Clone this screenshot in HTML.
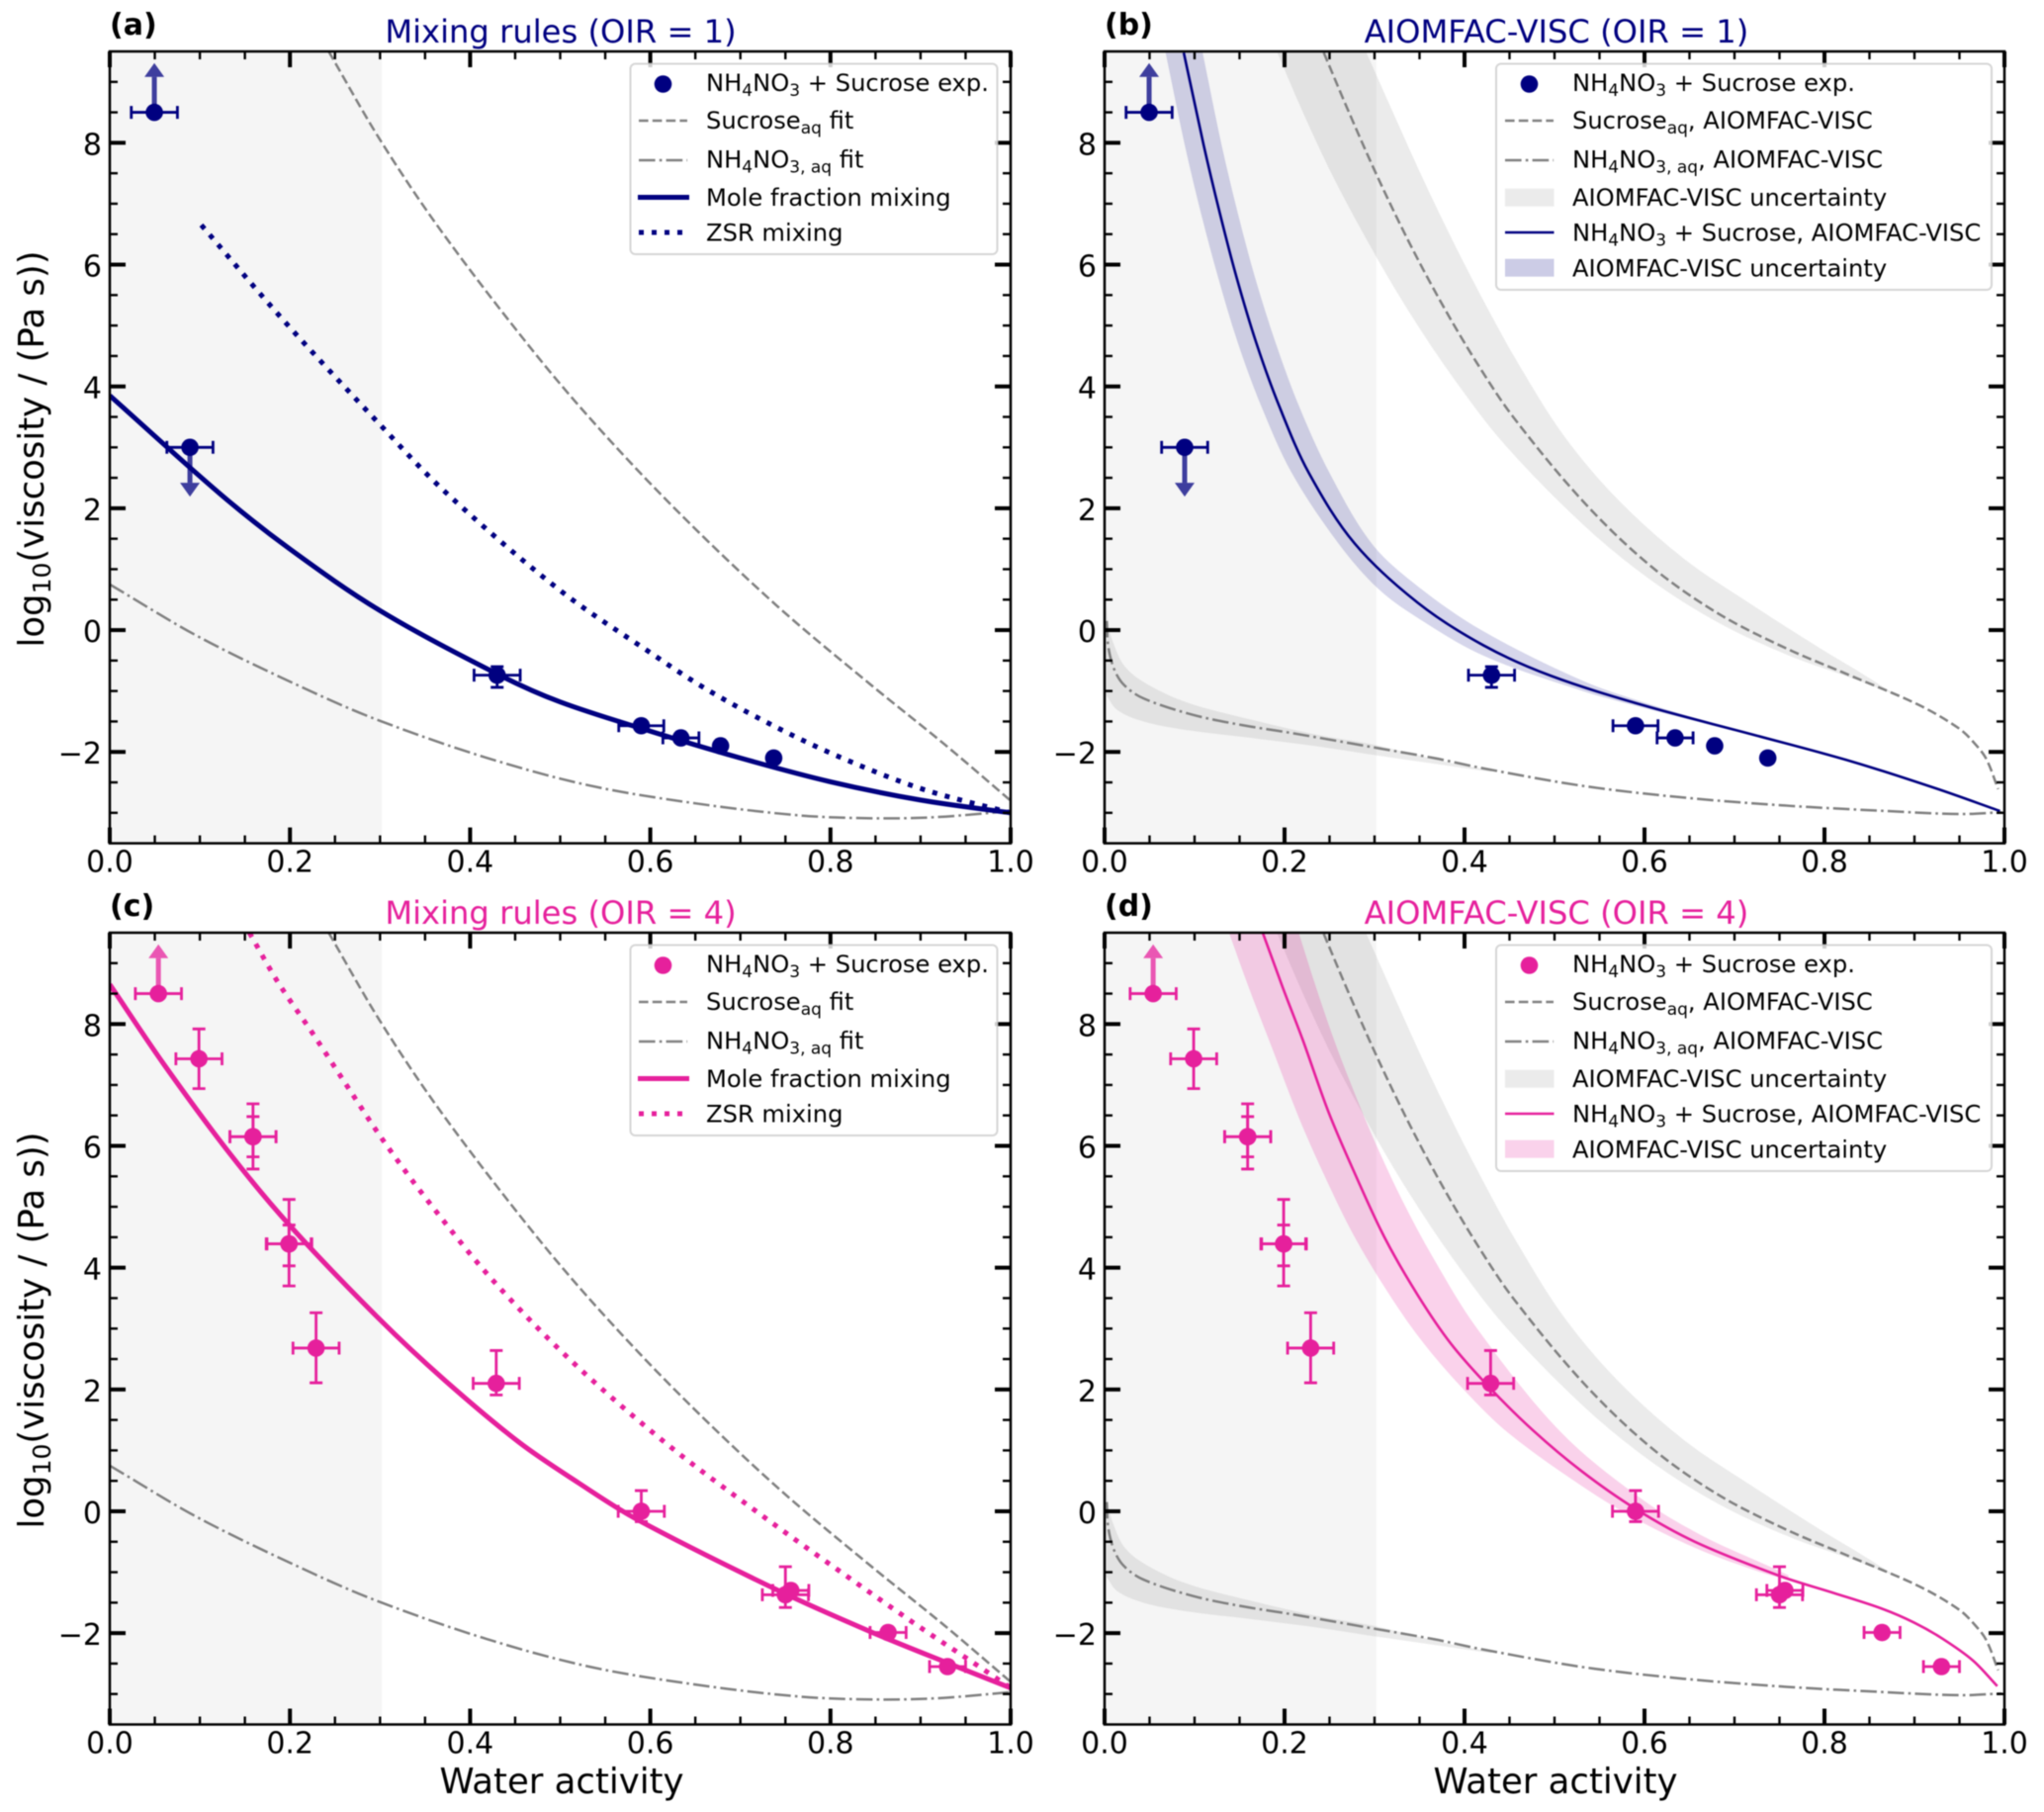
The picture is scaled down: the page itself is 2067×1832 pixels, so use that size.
<!DOCTYPE html>
<html lang="en">
<head>
<meta charset="utf-8">
<title>Viscosity of NH4NO3 + Sucrose versus water activity</title>
<style>
html,body{margin:0;padding:0;background:#fff;}
svg{display:block;filter:blur(0.4px);}
text{font-family:"DejaVu Sans","Liberation Sans",sans-serif;fill:#000;}
.lg{font-size:24.2px;}
.tt{font-size:32.2px;text-anchor:middle;}
.pl{font-size:30px;font-weight:bold;}
.al{font-size:35.5px;text-anchor:middle;}
.tk{font-size:30px;}
</style>
</head>
<body>
<svg id="figure" xmlns="http://www.w3.org/2000/svg" width="2067" height="1832" viewBox="0 0 2067 1832">
<rect x="0" y="0" width="2067" height="1832" fill="#fff"/>
<defs>
<clipPath id="clip-a"><rect x="111" y="52" width="911" height="800.6"/></clipPath>
<clipPath id="clip-b"><rect x="1117" y="52" width="910" height="800.6"/></clipPath>
<clipPath id="clip-c"><rect x="111" y="943" width="911" height="800.5"/></clipPath>
<clipPath id="clip-d"><rect x="1117" y="943" width="910" height="800.5"/></clipPath>
</defs>

<!-- PANEL A -->
<g id="panel-a">
<g id="plot-a"></g>
<text class="pl" x="111" y="35">(a)</text>
<text class="tt" x="567" y="43" style="fill:#000080">Mixing rules (OIR = 1)</text>
<text class="al" transform="translate(44,454) rotate(-90)">log<tspan font-size="25" dy="7">10</tspan><tspan dy="-7">(viscosity / (Pa s))</tspan></text>
<g>
<rect x="637.5" y="64.5" width="371" height="192.5" rx="5" fill="#fff" fill-opacity="0.8" stroke="#ccc" stroke-opacity="0.8" stroke-width="2"/>
<circle cx="670.5" cy="85" r="8.8" fill="#000080"/>
<text class="lg" x="714" y="92">NH<tspan font-size="17" dy="5">4</tspan><tspan dy="-5">NO</tspan><tspan font-size="17" dy="5">3</tspan><tspan dy="-5"> + Sucrose exp.</tspan></text>
<line x1="646" x2="695" y1="122" y2="122" stroke="#808080" stroke-width="2.5" stroke-dasharray="9.6 4.2"/>
<text class="lg" x="714" y="130">Sucrose<tspan font-size="17" dy="5">aq</tspan><tspan dy="-5"> fit</tspan></text>
<line x1="646" x2="695" y1="162" y2="162" stroke="#808080" stroke-width="2.5" stroke-dasharray="16.6 4.2 2.6 4.2"/>
<text class="lg" x="714" y="169.5">NH<tspan font-size="17" dy="5">4</tspan><tspan dy="-5">NO</tspan><tspan font-size="17" dy="5">3, aq</tspan><tspan dy="-5"> fit</tspan></text>
<line x1="645" x2="697" y1="199.5" y2="199.5" stroke="#000080" stroke-width="5"/>
<text class="lg" x="714" y="208">Mole fraction mixing</text>
<line x1="646" x2="692" y1="235" y2="235" stroke="#000080" stroke-width="5" stroke-dasharray="5 8"/>
<text class="lg" x="714" y="243.5">ZSR mixing</text>
</g>
</g>

<!-- PANEL B -->
<g id="panel-b">
<g id="plot-b"></g>
<text class="pl" x="1117" y="35">(b)</text>
<text class="tt" x="1574" y="43" style="fill:#000080">AIOMFAC-VISC (OIR = 1)</text>
<g>
<rect x="1513" y="64.5" width="501" height="228.5" rx="5" fill="#fff" fill-opacity="0.8" stroke="#ccc" stroke-opacity="0.8" stroke-width="2"/>
<circle cx="1546.5" cy="85" r="8.8" fill="#000080"/>
<text class="lg" x="1590" y="92">NH<tspan font-size="17" dy="5">4</tspan><tspan dy="-5">NO</tspan><tspan font-size="17" dy="5">3</tspan><tspan dy="-5"> + Sucrose exp.</tspan></text>
<line x1="1522" x2="1571" y1="122" y2="122" stroke="#808080" stroke-width="2.5" stroke-dasharray="9.6 4.2"/>
<text class="lg" x="1590" y="130">Sucrose<tspan font-size="17" dy="5">aq</tspan><tspan dy="-5">, AIOMFAC-VISC</tspan></text>
<line x1="1522" x2="1571" y1="162" y2="162" stroke="#808080" stroke-width="2.5" stroke-dasharray="16.6 4.2 2.6 4.2"/>
<text class="lg" x="1590" y="169.5">NH<tspan font-size="17" dy="5">4</tspan><tspan dy="-5">NO</tspan><tspan font-size="17" dy="5">3, aq</tspan><tspan dy="-5">, AIOMFAC-VISC</tspan></text>
<rect x="1522" y="190.7" width="49.5" height="18" fill="#808080" fill-opacity="0.16"/>
<text class="lg" x="1590" y="208">AIOMFAC-VISC uncertainty</text>
<line x1="1522" x2="1571.5" y1="235" y2="235" stroke="#000080" stroke-width="2.5"/>
<text class="lg" x="1590" y="243.5">NH<tspan font-size="17" dy="5">4</tspan><tspan dy="-5">NO</tspan><tspan font-size="17" dy="5">3</tspan><tspan dy="-5"> + Sucrose, AIOMFAC-VISC</tspan></text>
<rect x="1522" y="261.7" width="49.5" height="18" fill="#000080" fill-opacity="0.2"/>
<text class="lg" x="1590" y="279.5">AIOMFAC-VISC uncertainty</text>
</g>
</g>

<!-- PANEL C -->
<g id="panel-c">
<g id="plot-c"></g>
<text class="pl" x="111" y="926">(c)</text>
<text class="tt" x="567" y="934" style="fill:#e6209c">Mixing rules (OIR = 4)</text>
<text class="al" transform="translate(44,1345) rotate(-90)">log<tspan font-size="25" dy="7">10</tspan><tspan dy="-7">(viscosity / (Pa s))</tspan></text>
<text class="al" x="568" y="1813">Water activity</text>
<g>
<rect x="637.5" y="955.5" width="371" height="192.5" rx="5" fill="#fff" fill-opacity="0.8" stroke="#ccc" stroke-opacity="0.8" stroke-width="2"/>
<circle cx="670.5" cy="976" r="8.8" fill="#e6209c"/>
<text class="lg" x="714" y="983">NH<tspan font-size="17" dy="5">4</tspan><tspan dy="-5">NO</tspan><tspan font-size="17" dy="5">3</tspan><tspan dy="-5"> + Sucrose exp.</tspan></text>
<line x1="646" x2="695" y1="1013" y2="1013" stroke="#808080" stroke-width="2.5" stroke-dasharray="9.6 4.2"/>
<text class="lg" x="714" y="1021">Sucrose<tspan font-size="17" dy="5">aq</tspan><tspan dy="-5"> fit</tspan></text>
<line x1="646" x2="695" y1="1053" y2="1053" stroke="#808080" stroke-width="2.5" stroke-dasharray="16.6 4.2 2.6 4.2"/>
<text class="lg" x="714" y="1060.5">NH<tspan font-size="17" dy="5">4</tspan><tspan dy="-5">NO</tspan><tspan font-size="17" dy="5">3, aq</tspan><tspan dy="-5"> fit</tspan></text>
<line x1="645" x2="697" y1="1090.5" y2="1090.5" stroke="#e6209c" stroke-width="5"/>
<text class="lg" x="714" y="1099">Mole fraction mixing</text>
<line x1="646" x2="692" y1="1126" y2="1126" stroke="#e6209c" stroke-width="5" stroke-dasharray="5 8"/>
<text class="lg" x="714" y="1134.5">ZSR mixing</text>
</g>
</g>

<!-- PANEL D -->
<g id="panel-d">
<g id="plot-d"></g>
<text class="pl" x="1117" y="926">(d)</text>
<text class="tt" x="1574" y="934" style="fill:#e6209c">AIOMFAC-VISC (OIR = 4)</text>
<text class="al" x="1573" y="1813">Water activity</text>
<g>
<rect x="1513" y="955.5" width="501" height="228.5" rx="5" fill="#fff" fill-opacity="0.8" stroke="#ccc" stroke-opacity="0.8" stroke-width="2"/>
<circle cx="1546.5" cy="976" r="8.8" fill="#e6209c"/>
<text class="lg" x="1590" y="983">NH<tspan font-size="17" dy="5">4</tspan><tspan dy="-5">NO</tspan><tspan font-size="17" dy="5">3</tspan><tspan dy="-5"> + Sucrose exp.</tspan></text>
<line x1="1522" x2="1571" y1="1013" y2="1013" stroke="#808080" stroke-width="2.5" stroke-dasharray="9.6 4.2"/>
<text class="lg" x="1590" y="1021">Sucrose<tspan font-size="17" dy="5">aq</tspan><tspan dy="-5">, AIOMFAC-VISC</tspan></text>
<line x1="1522" x2="1571" y1="1053" y2="1053" stroke="#808080" stroke-width="2.5" stroke-dasharray="16.6 4.2 2.6 4.2"/>
<text class="lg" x="1590" y="1060.5">NH<tspan font-size="17" dy="5">4</tspan><tspan dy="-5">NO</tspan><tspan font-size="17" dy="5">3, aq</tspan><tspan dy="-5">, AIOMFAC-VISC</tspan></text>
<rect x="1522" y="1081.7" width="49.5" height="18" fill="#808080" fill-opacity="0.16"/>
<text class="lg" x="1590" y="1099">AIOMFAC-VISC uncertainty</text>
<line x1="1522" x2="1571.5" y1="1126" y2="1126" stroke="#e6209c" stroke-width="2.5"/>
<text class="lg" x="1590" y="1134.5">NH<tspan font-size="17" dy="5">4</tspan><tspan dy="-5">NO</tspan><tspan font-size="17" dy="5">3</tspan><tspan dy="-5"> + Sucrose, AIOMFAC-VISC</tspan></text>
<rect x="1522" y="1152.7" width="49.5" height="18" fill="#e6209c" fill-opacity="0.2"/>
<text class="lg" x="1590" y="1170.5">AIOMFAC-VISC uncertainty</text>
</g>
</g>
</svg>

<script>
// ---------- axis ticks ----------
var xTickValues = [0, 0.2, 0.4, 0.6, 0.8, 1.0];
var xTickLabels = ['0.0', '0.2', '0.4', '0.6', '0.8', '1.0'];
var xMinorTicks = [0.05, 0.1, 0.15, 0.25, 0.3, 0.35, 0.45, 0.5, 0.55, 0.65, 0.7, 0.75, 0.85, 0.9, 0.95];
var yTickValues = [-2, 0, 2, 4, 6, 8];
var yTickLabels = ['\u22122', '0', '2', '4', '6', '8'];
var yMinorTicks = [-3, -2.5, -1.5, -1, -0.5, 0.5, 1, 1.5, 2.5, 3, 3.5, 4.5, 5, 5.5, 6.5, 7, 7.5, 8.5, 9];
var xDomain = [0, 1];
var yDomain = [-3.5, 9.5];
var shadedUpToX = [0.302];

// ---------- fitted curves (panels a, c) ----------
var sucroseFitX = [0.243, 0.30, 0.368, 0.47, 0.545, 0.635, 0.742, 0.845, 0.927, 1.0];
var sucroseFitY = [9.5, 8.05, 6.55, 4.58, 3.28, 1.88, 0.38, -0.9, -1.88, -2.8];
var nitrateFitX = [0, 0.1, 0.224, 0.30, 0.417, 0.532, 0.648, 0.764, 0.848, 0.918, 1.0];
var nitrateFitY = [0.75, -0.12, -1.01, -1.49, -2.09, -2.55, -2.84, -3.04, -3.09, -3.07, -2.97];

// ---------- mixing rules OIR = 1 (panel a) ----------
var moleOir1X = [0, 0.123, 0.2, 0.3, 0.43, 0.5, 0.6, 0.7, 0.8, 0.9, 1.0];
var moleOir1Y = [3.85, 2.23, 1.33, 0.32, -0.72, -1.18, -1.66, -2.1, -2.49, -2.79, -3.0];
var zsrOir1X = [0.1016, 0.192, 0.297, 0.373, 0.5, 0.6, 0.66, 0.73, 0.805, 0.9, 1.0];
var zsrOir1Y = [6.65, 5.1, 3.42, 2.26, 0.65, -0.37, -0.95, -1.52, -2.05, -2.6, -3.0];

// ---------- mixing rules OIR = 4 (panel c) ----------
var moleOir4X = [0, 0.061, 0.134, 0.2, 0.299, 0.372, 0.4546, 0.52, 0.586, 0.742, 0.845, 0.935, 1.0];
var moleOir4Y = [8.65, 7.32, 5.86, 4.69, 3.16, 2.15, 1.13, 0.47, -0.14, -1.3, -1.98, -2.52, -2.9];
var zsrOir4X = [0.155, 0.187, 0.226, 0.264, 0.303, 0.353, 0.423, 0.5116, 0.618, 0.7296, 0.832, 0.902, 0.96, 1.0];
var zsrOir4Y = [9.5, 8.68, 7.83, 6.97, 6.1, 5.1, 3.83, 2.48, 1.11, -0.13, -1.21, -1.93, -2.5, -2.9];

// ---------- AIOMFAC-VISC pure-component curves (panels b, d) ----------
var sucroseModelX = [0.2436, 0.271, 0.304, 0.3407, 0.377, 0.414, 0.454, 0.5326, 0.607, 0.681, 0.756, 0.831, 0.905, 0.95, 0.968, 0.98, 0.993];
var sucroseModelY = [9.48, 8.52, 7.42, 6.3, 5.3, 4.38, 3.5, 2.1, 1.05, 0.28, -0.29, -0.76, -1.23, -1.62, -1.88, -2.12, -2.61];
var sucroseBandUpperX = [0.291, 0.3205, 0.3535, 0.39, 0.425, 0.458, 0.51, 0.57, 0.644, 0.719, 0.793, 0.838, 0.88];
var sucroseBandUpperY = [9.48, 8.5, 7.42, 6.3, 5.3, 4.42, 3.2, 2.15, 1.17, 0.42, -0.28, -0.68, -1.07];
var sucroseBandLowerX = [0.192, 0.2216, 0.2564, 0.30, 0.339, 0.388, 0.445, 0.5326, 0.607, 0.681, 0.756, 0.838, 0.88];
var sucroseBandLowerY = [9.48, 8.46, 7.37, 6.18, 5.21, 4.13, 3.04, 1.72, 0.82, 0.13, -0.39, -0.83, -1.07];

var nitrateModelX = [0.0025, 0.004, 0.0106, 0.0216, 0.043, 0.098, 0.153, 0.208, 0.293, 0.366, 0.421, 0.5326, 0.644, 0.756, 0.868, 0.95, 0.997];
var nitrateModelY = [0.15, -0.26, -0.64, -0.9, -1.12, -1.39, -1.56, -1.69, -1.91, -2.1, -2.27, -2.56, -2.75, -2.88, -2.97, -3.02, -2.99];
var nitrateBandUpperX = [0.002, 0.004, 0.0095, 0.0216, 0.043, 0.09, 0.163, 0.237, 0.299, 0.384, 0.43];
var nitrateBandUpperY = [0.6, 0.1, -0.2, -0.58, -0.85, -1.18, -1.47, -1.72, -1.88, -2.18, -2.3];
var nitrateBandLowerX = [0.002, 0.014, 0.043, 0.09, 0.163, 0.237, 0.299, 0.43];
var nitrateBandLowerY = [-1.07, -1.31, -1.5, -1.64, -1.77, -1.91, -2.05, -2.33];

// ---------- AIOMFAC-VISC mixture OIR = 1 (panel b) ----------
var mixOir1X = [0.088, 0.11, 0.128, 0.1465, 0.1685, 0.194, 0.227, 0.278, 0.348, 0.421, 0.496, 0.60, 0.719, 0.831, 0.924, 0.995];
var mixOir1Y = [9.48, 7.97, 6.85, 5.8, 4.72, 3.68, 2.58, 1.42, 0.45, -0.25, -0.75, -1.24, -1.71, -2.16, -2.6, -2.97];
var mixOir1UpperX = [0.109, 0.13, 0.148, 0.167, 0.19, 0.216, 0.25, 0.297, 0.348, 0.421, 0.531, 0.6, 0.7];
var mixOir1UpperY = [9.48, 7.97, 6.85, 5.8, 4.72, 3.68, 2.58, 1.42, 0.72, -0.02, -0.83, -1.19, -1.63];
var mixOir1LowerX = [0.0678, 0.089, 0.107, 0.126, 0.148, 0.174, 0.208, 0.26, 0.304, 0.348, 0.421, 0.531, 0.6, 0.7];
var mixOir1LowerY = [9.48, 7.97, 6.85, 5.8, 4.72, 3.68, 2.58, 1.42, 0.68, 0.2, -0.42, -1.0, -1.28, -1.66];

// ---------- AIOMFAC-VISC mixture OIR = 4 (panel d) ----------
var mixOir4X = [0.176, 0.198, 0.22, 0.249, 0.278, 0.311, 0.348, 0.385, 0.4286, 0.476, 0.53, 0.59, 0.656, 0.75, 0.81, 0.864, 0.9, 0.931, 0.965, 0.992];
var mixOir4Y = [9.49, 8.6, 7.75, 6.55, 5.55, 4.5, 3.55, 2.75, 2.02, 1.33, 0.66, 0.04, -0.5, -1.06, -1.34, -1.6, -1.83, -2.09, -2.45, -2.87];
var mixOir4UpperX = [0.216, 0.234, 0.256, 0.281, 0.30, 0.33, 0.366, 0.414, 0.507, 0.597, 0.664, 0.735, 0.76];
var mixOir4UpperY = [9.49, 8.65, 7.7, 6.75, 6.08, 5.13, 4.14, 3.0, 1.3, 0.2, -0.4, -0.88, -1.05];
var mixOir4LowerX = [0.1385, 0.161, 0.185, 0.216, 0.245, 0.278, 0.319, 0.355, 0.399, 0.45, 0.539, 0.597, 0.664, 0.727, 0.76];
var mixOir4LowerY = [9.49, 8.57, 7.65, 6.46, 5.49, 4.5, 3.5, 2.75, 2.0, 1.27, 0.33, -0.18, -0.65, -0.99, -1.13];

// ---------- experimental points OIR = 1 (panels a, b) ----------
var expOir1X = [0.0495, 0.089, 0.43, 0.59, 0.634, 0.678, 0.737];
var expOir1Y = [8.5, 3.0, -0.74, -1.57, -1.77, -1.9, -2.1];
var expOir1XErr = [0.0256, 0.0256, 0.0256, 0.025, 0.02, 0, 0];
var expOir1YUp = [0, 0, 0.14, 0, 0, 0, 0];
var expOir1YDown = [0, 0, 0.2, 0, 0, 0, 0];
var expOir1ArrowTip = [9.31, 2.19, null, null, null, null, null];

// ---------- experimental points OIR = 4 (panels c, d) ----------
var expOir4X = [0.054, 0.099, 0.159, 0.159, 0.199, 0.199, 0.229, 0.429, 0.59, 0.75, 0.756, 0.864, 0.93];
var expOir4Y = [8.5, 7.43, 6.15, 6.15, 4.39, 4.39, 2.68, 2.1, 0, -1.37, -1.3, -1.99, -2.55];
var expOir4XErr = [0.0256, 0.0256, 0.0256, 0.0256, 0.0253, 0.0245, 0.0256, 0.0256, 0.0256, 0.0256, 0.02, 0.02, 0.02];
var expOir4YUp = [0, 0.49, 0.33, 0.54, 0.31, 0.73, 0.58, 0.54, 0.34, 0.46, 0, 0, 0];
var expOir4YDown = [0, 0.49, 0.33, 0.53, 0.36, 0.69, 0.57, 0.19, 0.17, 0.21, 0, 0, 0];
var expOir4ArrowTip = [9.31, null, null, null, null, null, null, null, null, null, null, null, null];

var NAVY = '#000080';
var PINK = '#e6209c';
var GRAY = '#808080';
var SVGNS = 'http://www.w3.org/2000/svg';

function node(tag, attrs, parent) {
  var el = document.createElementNS(SVGNS, tag);
  for (var k in attrs) { el.setAttribute(k, attrs[k]); }
  parent.appendChild(el);
  return el;
}

function makeAxes(id, left, right, top, bottom) {
  return {
    id: id, left: left, right: right, top: top, bottom: bottom,
    g: document.getElementById('plot-' + id),
    sx: function (v) { return left + (v - xDomain[0]) / (xDomain[1] - xDomain[0]) * (right - left); },
    sy: function (v) { return bottom - (v - yDomain[0]) / (yDomain[1] - yDomain[0]) * (bottom - top); }
  };
}

// smooth path through the data points using chord-length tangents
function smoothSegments(ax, xs, ys, first) {
  var p = [];
  for (var i = 0; i < xs.length; i++) { p.push([ax.sx(xs[i]), ax.sy(ys[i])]); }
  var d = (first ? 'M' : 'L') + p[0][0].toFixed(2) + ' ' + p[0][1].toFixed(2);
  function tangent(j) {
    var a = p[Math.max(j - 1, 0)], b = p[Math.min(j + 1, p.length - 1)];
    var len = Math.hypot(b[0] - a[0], b[1] - a[1]) || 1;
    return [(b[0] - a[0]) / len, (b[1] - a[1]) / len];
  }
  for (var s = 0; s < p.length - 1; s++) {
    var L = Math.hypot(p[s + 1][0] - p[s][0], p[s + 1][1] - p[s][1]) / 3;
    var t0 = tangent(s), t1 = tangent(s + 1);
    d += 'C' + (p[s][0] + t0[0] * L).toFixed(2) + ' ' + (p[s][1] + t0[1] * L).toFixed(2) + ' ' +
         (p[s + 1][0] - t1[0] * L).toFixed(2) + ' ' + (p[s + 1][1] - t1[1] * L).toFixed(2) + ' ' +
         p[s + 1][0].toFixed(2) + ' ' + p[s + 1][1].toFixed(2);
  }
  return d;
}

function drawShade(ax) {
  var el = node('rect', { x: ax.sx(0), y: ax.top, width: ax.sx(shadedUpToX[0]) - ax.sx(0), height: ax.bottom - ax.top, fill: '#f5f5f5' }, ax.g);
  
  
}

function drawCurve(ax, xs, ys, color, width, dash, name) {
  var el = node('path', { d: smoothSegments(ax, xs, ys, true), fill: 'none', stroke: color, 'stroke-width': width, 'clip-path': 'url(#clip-' + ax.id + ')' }, ax.g);
  if (dash) { el.setAttribute('stroke-dasharray', dash); }
  
  
}

function drawBand(ax, ux, uy, lx, ly, color, opacity, name) {
  var rx = lx.slice().reverse(), ry = ly.slice().reverse();
  var d = smoothSegments(ax, ux, uy, true) + smoothSegments(ax, rx, ry, false) + 'Z';
  var el = node('path', { d: d, fill: color, 'fill-opacity': opacity, stroke: 'none', 'clip-path': 'url(#clip-' + ax.id + ')' }, ax.g);
  
  
}

function drawPoints(ax, xs, ys, xe, yu, yd, tips, color, barWidth) {
  var capHalf = 6.5;
  for (var i = 0; i < xs.length; i++) {
    var g = node('g', { stroke: color, 'stroke-width': barWidth, fill: 'none' }, ax.g);
    
    
    var cx = ax.sx(xs[i]), cy = ax.sy(ys[i]);
    if (tips[i] !== null) {
      var ty = ax.sy(tips[i]);
      var sign = ty < cy ? 1 : -1;
      var baseY = ty + sign * 14;
      var shaft = node('line', { x1: cx, x2: cx, y1: cy, y2: baseY, 'stroke-width': 5, stroke: color, 'stroke-opacity': 0.75 }, g);
      
      
      var head = node('polygon', { points: (cx - 10) + ',' + baseY + ' ' + (cx + 10) + ',' + baseY + ' ' + cx + ',' + ty, fill: color, 'fill-opacity': 0.75, stroke: 'none' }, g);
      
      
    }
    if (xe[i] > 0) {
      var x0 = ax.sx(xs[i] - xe[i]), x1 = ax.sx(xs[i] + xe[i]);
      var hb = node('path', { d: 'M' + x0 + ' ' + cy + 'H' + x1 + 'M' + x0 + ' ' + (cy - capHalf) + 'V' + (cy + capHalf) + 'M' + x1 + ' ' + (cy - capHalf) + 'V' + (cy + capHalf) }, g);
      
      
    }
    if (yu[i] > 0 || yd[i] > 0) {
      var y0 = ax.sy(ys[i] + yu[i]), y1 = ax.sy(ys[i] - yd[i]);
      var vb = node('path', { d: 'M' + cx + ' ' + y0 + 'V' + y1 + 'M' + (cx - capHalf) + ' ' + y0 + 'H' + (cx + capHalf) + 'M' + (cx - capHalf) + ' ' + y1 + 'H' + (cx + capHalf) }, g);
      
      
    }
    var c = node('circle', { cx: cx, cy: cy, r: 8.8, fill: color, stroke: 'none' }, g);
    
    
  }
}

function drawAxes(ax) {
  var g = node('g', { stroke: '#000' }, ax.g);
  
  
  function tick(x1, y1, x2, y2, w) {
    var t = node('line', { x1: x1, y1: y1, x2: x2, y2: y2, 'stroke-width': w }, g);
    
    
  }
  var MAJ = 16, MIN = 8, WMAJ = 4, WMIN = 2.4;
  xTickValues.forEach(function (v) {
    var x = ax.sx(v);
    tick(x, ax.bottom, x, ax.bottom - MAJ, WMAJ);
    tick(x, ax.top, x, ax.top + MAJ, WMAJ);
  });
  xMinorTicks.forEach(function (v) {
    var x = ax.sx(v);
    tick(x, ax.bottom, x, ax.bottom - MIN, WMIN);
    tick(x, ax.top, x, ax.top + MIN, WMIN);
  });
  yTickValues.forEach(function (v) {
    var y = ax.sy(v);
    tick(ax.left, y, ax.left + MAJ, y, WMAJ);
    tick(ax.right, y, ax.right - MAJ, y, WMAJ);
  });
  yMinorTicks.forEach(function (v) {
    var y = ax.sy(v);
    tick(ax.left, y, ax.left + MIN, y, WMIN);
    tick(ax.right, y, ax.right - MIN, y, WMIN);
  });
  var frame = node('rect', { x: ax.left, y: ax.top, width: ax.right - ax.left, height: ax.bottom - ax.top, fill: 'none', stroke: '#000', 'stroke-width': 2.5 }, ax.g);
  
  

  xTickValues.forEach(function (v, i) {
    var t = node('text', { 'class': 'tk', x: ax.sx(v), y: ax.bottom + 29, 'text-anchor': 'middle' }, ax.g);
    t.textContent = xTickLabels[i];
    
    
  });
  yTickValues.forEach(function (v, i) {
    var t = node('text', { 'class': 'tk', x: ax.left - 8, y: ax.sy(v) + 12, 'text-anchor': 'end' }, ax.g);
    t.textContent = yTickLabels[i];
    
    
  });
}

var axA = makeAxes('a', 111, 1022, 52, 852.6);
var axB = makeAxes('b', 1117, 2027, 52, 852.6);
var axC = makeAxes('c', 111, 1022, 943, 1743.5);
var axD = makeAxes('d', 1117, 2027, 943, 1743.5);

// Panel (a)
drawShade(axA);
drawCurve(axA, sucroseFitX, sucroseFitY, GRAY, 2.5, '9.6 4.2', 'sucrose-fit-line');
drawCurve(axA, nitrateFitX, nitrateFitY, GRAY, 2.5, '16.6 4.2 2.6 4.2', 'nitrate-fit-line');
drawCurve(axA, moleOir1X, moleOir1Y, NAVY, 5, null, 'mole-fraction-line');
drawCurve(axA, zsrOir1X, zsrOir1Y, NAVY, 5, '5 8', 'zsr-line');
drawPoints(axA, expOir1X, expOir1Y, expOir1XErr, expOir1YUp, expOir1YDown, expOir1ArrowTip, NAVY, 2.8);
drawAxes(axA);

// Panel (b)
drawShade(axB);
drawBand(axB, sucroseBandUpperX, sucroseBandUpperY, sucroseBandLowerX, sucroseBandLowerY, GRAY, 0.16, 'sucrose-uncertainty-band');
drawBand(axB, nitrateBandUpperX, nitrateBandUpperY, nitrateBandLowerX, nitrateBandLowerY, GRAY, 0.16, 'nitrate-uncertainty-band');
drawBand(axB, mixOir1UpperX, mixOir1UpperY, mixOir1LowerX, mixOir1LowerY, NAVY, 0.16, 'mixture-uncertainty-band');
drawCurve(axB, sucroseModelX, sucroseModelY, GRAY, 2.5, '9.6 4.2', 'sucrose-model-line');
drawCurve(axB, nitrateModelX, nitrateModelY, GRAY, 2.5, '16.6 4.2 2.6 4.2', 'nitrate-model-line');
drawCurve(axB, mixOir1X, mixOir1Y, NAVY, 2.6, null, 'mixture-model-line');
drawPoints(axB, expOir1X, expOir1Y, expOir1XErr, expOir1YUp, expOir1YDown, expOir1ArrowTip, NAVY, 2.8);
drawAxes(axB);

// Panel (c)
drawShade(axC);
drawCurve(axC, sucroseFitX, sucroseFitY, GRAY, 2.5, '9.6 4.2', 'sucrose-fit-line');
drawCurve(axC, nitrateFitX, nitrateFitY, GRAY, 2.5, '16.6 4.2 2.6 4.2', 'nitrate-fit-line');
drawCurve(axC, moleOir4X, moleOir4Y, PINK, 5, null, 'mole-fraction-line');
drawCurve(axC, zsrOir4X, zsrOir4Y, PINK, 5, '5 8', 'zsr-line');
drawPoints(axC, expOir4X, expOir4Y, expOir4XErr, expOir4YUp, expOir4YDown, expOir4ArrowTip, PINK, 2.8);
drawAxes(axC);

// Panel (d)
drawShade(axD);
drawBand(axD, sucroseBandUpperX, sucroseBandUpperY, sucroseBandLowerX, sucroseBandLowerY, GRAY, 0.16, 'sucrose-uncertainty-band');
drawBand(axD, nitrateBandUpperX, nitrateBandUpperY, nitrateBandLowerX, nitrateBandLowerY, GRAY, 0.16, 'nitrate-uncertainty-band');
drawBand(axD, mixOir4UpperX, mixOir4UpperY, mixOir4LowerX, mixOir4LowerY, PINK, 0.2, 'mixture-uncertainty-band');
drawCurve(axD, sucroseModelX, sucroseModelY, GRAY, 2.5, '9.6 4.2', 'sucrose-model-line');
drawCurve(axD, nitrateModelX, nitrateModelY, GRAY, 2.5, '16.6 4.2 2.6 4.2', 'nitrate-model-line');
drawCurve(axD, mixOir4X, mixOir4Y, PINK, 2.6, null, 'mixture-model-line');
drawPoints(axD, expOir4X, expOir4Y, expOir4XErr, expOir4YUp, expOir4YDown, expOir4ArrowTip, PINK, 2.8);
drawAxes(axD);
</script>
</body>
</html>
